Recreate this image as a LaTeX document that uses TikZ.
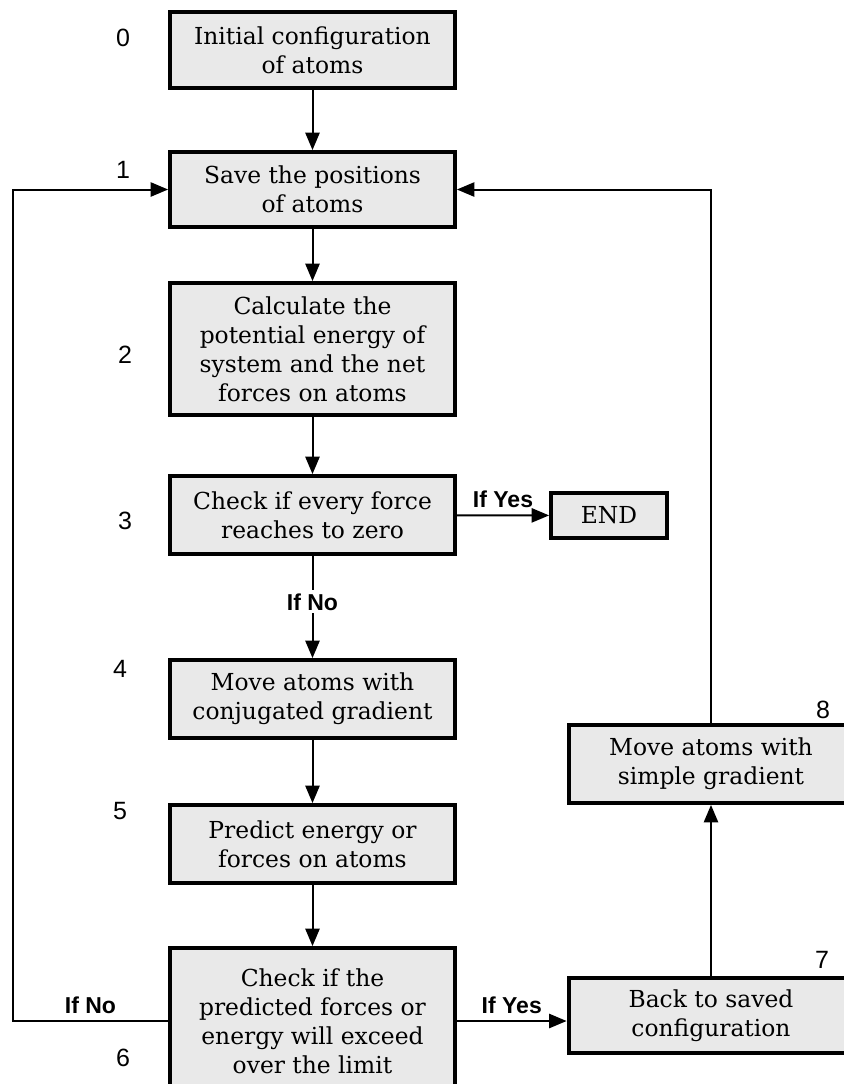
\documentclass[tikz,border=0pt]{standalone}
\usepackage{fontspec}
\setmainfont{DejaVu Serif}
\newfontfamily\labelfont{Liberation Sans}
\usetikzlibrary{arrows}
\usetikzlibrary{calc}

\tikzset{
  procbox/.style={draw=black, line width=2pt, fill=gray!17, minimum width=142.5pt,
    align=center, inner sep=0pt, font=\fontsize{11.7}{14.5}\selectfont},
  flow/.style={line width=1pt, -triangle 45},
  cond/.style={font=\labelfont\bfseries\fontsize{11.5}{13}\selectfont},
  stepno/.style={font=\labelfont\fontsize{12.5}{14}\selectfont},
}

\begin{document}
\begin{tikzpicture}[x=0.5pt,y=0.5pt]
\useasboundingbox (0,0) rectangle (843,-1084);

% main column
\node[procbox, minimum height=38pt] (init) at (312.5,-50) {Initial configuration\\of atoms};
\node[procbox, minimum height=37.5pt] (save) at (312.5,-189.5) {Save the positions\\of atoms};
\node[procbox, minimum height=66pt] (calc) at (312.5,-349) {Calculate the\\potential energy of\\system and the net\\forces on atoms};
\node[procbox, minimum height=39pt] (check) at (312.5,-515) {Check if every force\\reaches to zero};
\node[procbox, minimum width=58pt, minimum height=22.5pt] (end) at (609,-515.5) {END};
\node[procbox, minimum height=39pt] (conj) at (312.5,-699) {Move atoms with\\conjugated gradient};
\node[procbox, minimum height=39pt] (pred) at (312.5,-844) {Predict energy or\\forces on atoms};
\node[procbox, minimum height=73pt] (limit) at (312.5,-1021) {Check if the\\predicted forces or\\energy will exceed\\over the limit};

% right column
\node[procbox, minimum height=37.5pt] (back) at (711,-1015.5) {Back to saved\\configuration};
\node[procbox, minimum height=39pt] (simple) at (711,-764) {Move atoms with\\simple gradient};

% step numbers
\node[stepno] (n0) at (123,-38) {0};
\node[stepno] (n1) at (123,-170) {1};
\node[stepno] (n2) at (125,-355) {2};
\node[stepno] (n3) at (125,-521) {3};
\node[stepno] (n4) at (120,-669) {4};
\node[stepno] (n5) at (120,-811) {5};
\node[stepno] (n6) at (123,-1058) {6};
\node[stepno] (n7) at (822,-960) {7};
\node[stepno] (n8) at (823,-710) {8};

% connectors
\draw[flow] (init) -- (save);
\draw[flow] (save) -- (calc);
\draw[flow] (calc) -- (check);
\draw[flow] (check) -- node[cond, fill=white, inner sep=1.5pt, pos=0.45] {If No} (conj);
\draw[flow] (check) -- node[cond, above] {If Yes} (end);
\draw[flow] (conj) -- (pred);
\draw[flow] (pred) -- (limit);
\draw[flow] (limit.east) -- node[cond, above] {If Yes} (back.west |- limit.east);
\draw[flow] (back) -- (simple);
\coordinate (lturn) at (13,-1021);
\draw[flow] (limit.west) -- node[cond, above] {If No} (lturn) |- (save.west);
\draw[flow] (simple.north) |- (save.east);
\end{tikzpicture}
\end{document}
